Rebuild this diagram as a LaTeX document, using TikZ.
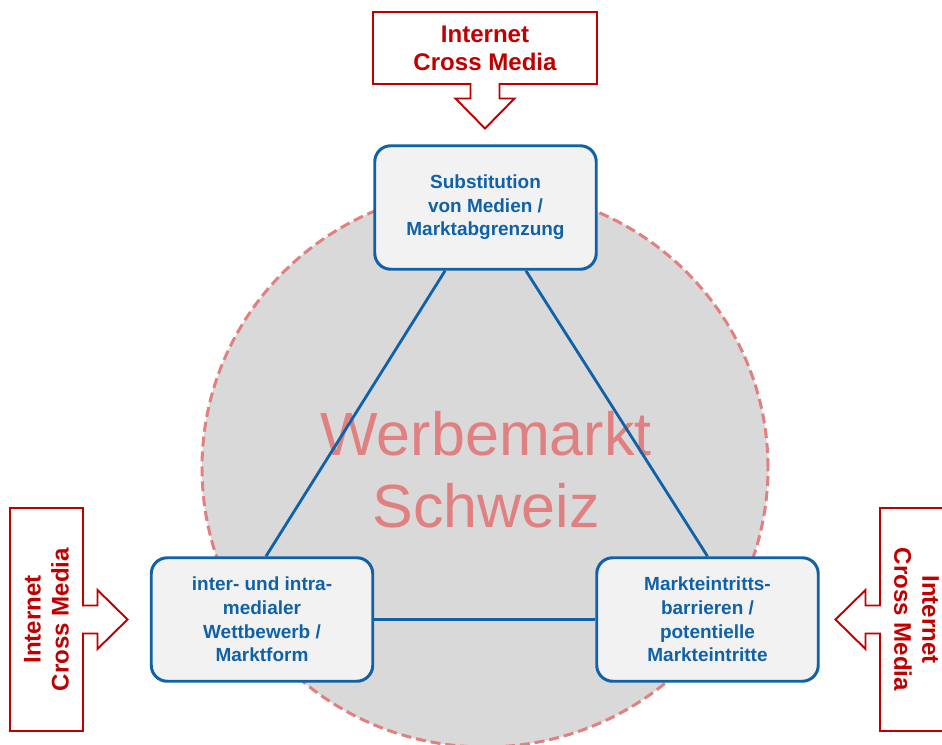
\documentclass[tikz,border=0pt]{standalone}
\usepackage{fontspec}
\setmainfont{Liberation Sans}
\usetikzlibrary{calc}

\definecolor{blau}{RGB}{16,98,168}
\definecolor{inetrot}{RGB}{192,0,0}
\definecolor{lachs}{RGB}{224,128,128}
\definecolor{kreisgrau}{RGB}{217,217,217}
\definecolor{boxgrau}{RGB}{242,242,242}

\begin{document}
\begin{tikzpicture}[
		thema/.style={draw=blau, line width=1.7pt, fill=boxgrau, rounded corners=0.32cm,
			minimum width=4.43cm, minimum height=2.47cm, align=center, text=blau,
			font=\fontsize{10.8}{13.4}\selectfont\bfseries},
		kante/.style={blau, line width=1.6pt},
		inetbox/.style={outer sep=0pt, inner sep=0pt},
		inettext/.style={align=center, text=inetrot, font=\fontsize{13.7}{15.9}\selectfont\bfseries},
		rahmenrot/.style={draw=inetrot, line width=1.1pt, fill=white, line join=miter}
	]
	
	\useasboundingbox (0,0) rectangle (18.84,14.88);
	
	% Kreis
	\draw[fill=kreisgrau, draw=lachs, line width=1.7pt, dash pattern=on 5.7pt off 2.8pt]
		(9.70,5.52) ellipse [x radius=5.66cm, y radius=5.58cm];
	\node[text=lachs, align=center, font=\fontsize{34.7}{41}\selectfont] (markt) at (9.72,5.48) {Werbemarkt\\Schweiz};
	
	% Themen
	\node[thema] (substitution) at (9.71,10.73) {Substitution\\von Medien /\\Marktabgrenzung};
	\node[thema] (wettbewerb) at (5.24,2.49) {inter- und intra-\\medialer\\Wettbewerb /\\Marktform};
	\node[thema] (eintritt) at (14.15,2.49) {Markteintritts-\\barrieren /\\potentielle\\Markteintritte};
	
	% Dreieck
	\draw[kante] ($(substitution.south west)!0.32!(substitution.south east)$) -- ($(wettbewerb.north)+(0.08,0)$);
	\draw[kante] ($(substitution.south west)!0.68!(substitution.south east)$) -- (eintritt.north);
	\draw[kante] (wettbewerb.east) -- (eintritt.west);
	
	% Internet oben
	\node[inetbox, minimum width=4.48cm, minimum height=1.44cm] (inetoben) at (9.70,13.92) {};
	\draw[rahmenrot] (inetoben.south west) -- ($(inetoben.south)+(-0.29,0)$) -- ++(0,-0.29) -- ++(-0.30,0)
		-- ($(inetoben.south)+(0,-0.89)$) -- ++(0.59,0.6) -- ++(-0.30,0) -- ++(0,0.29)
		-- (inetoben.south east) -- (inetoben.north east) -- (inetoben.north west) -- cycle;
	\node[inettext] at (inetoben) {Internet\\Cross Media};
	
	% Internet links
	\node[inetbox, minimum width=1.46cm, minimum height=4.46cm] (inetlinks) at (0.93,2.49) {};
	\draw[rahmenrot] (inetlinks.north east) -- ($(inetlinks.east)+(0,0.28)$) -- ++(0.29,0) -- ++(0,0.31)
		-- ($(inetlinks.east)+(0.89,0)$) -- ++(-0.6,-0.59) -- ++(0,0.31) -- ++(-0.29,0)
		-- (inetlinks.south east) -- (inetlinks.south west) -- (inetlinks.north west) -- cycle;
	\node[inettext, rotate=90] at (inetlinks) {Internet\\Cross Media};
	
	% Internet rechts
	\node[inetbox, minimum width=1.46cm, minimum height=4.46cm] (inetrechts) at (18.33,2.49) {};
	\draw[rahmenrot] (inetrechts.north west) -- ($(inetrechts.west)+(0,0.28)$) -- ++(-0.29,0) -- ++(0,0.31)
		-- ($(inetrechts.west)+(-0.89,0)$) -- ++(0.6,-0.59) -- ++(0,0.31) -- ++(0.29,0)
		-- (inetrechts.south west) -- (inetrechts.south east) -- (inetrechts.north east) -- cycle;
	\node[inettext, rotate=-90] at (inetrechts) {Internet\\Cross Media};
	
\end{tikzpicture}
\end{document}
